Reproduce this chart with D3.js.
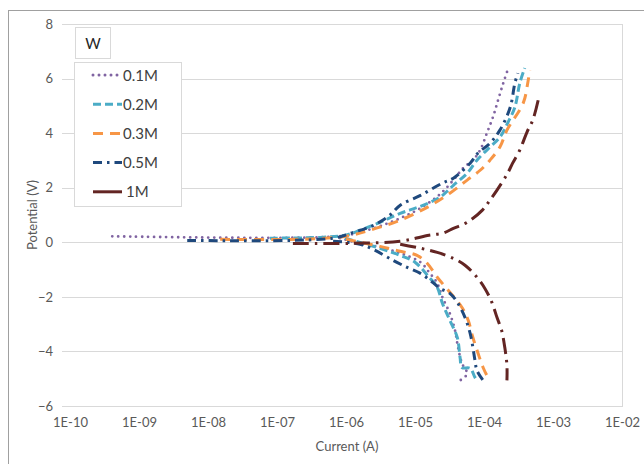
<!DOCTYPE html>
<html><head><meta charset="utf-8">
<script src="https://cdn.jsdelivr.net/npm/d3@7"></script>
<style>body{margin:0;background:#fff}svg{display:block}text{font-family:Lato,"Open Sans",sans-serif}</style>
</head><body>
<svg id="c" width="644" height="464"></svg>
<script>
// ---- data (current in A, potential in V) ----
const seriesNames = ["0.1M","0.2M","0.3M","0.5M","1M"];
const xTicks = [1e-10,1e-9,1e-8,1e-7,1e-6,1e-5,1e-4,1e-3,1e-2];
const xTickLabels = ["1E-10","1E-09","1E-08","1E-07","1E-06","1E-05","1E-04","1E-03","1E-02"];
const yTicks = [-6,-4,-2,0,2,4,6,8];

const m01_anodic_I = [4.1e-10,8.2e-7,1.6e-6,3.1e-6,6.1e-6,1.2e-5,2.3e-5,3.6e-5,5.0e-5,6.9e-5,8.8e-5,1.1e-4,1.35e-4,1.6e-4,1.9e-4,2.2e-4];
const m01_anodic_V = [0.22,0.22,0.37,0.59,0.88,1.25,1.76,2.28,2.72,3.01,3.38,4.00,4.59,5.21,5.83,6.31];
const m01_cathodic_I = [8.2e-7,1.6e-6,3.1e-6,6.1e-6,1.2e-5,1.6e-5,2.1e-5,2.5e-5,3.2e-5,3.8e-5,4.2e-5,4.8e-5,5.7e-5,5.0e-5,4.5e-5];
const m01_cathodic_V = [0.15,-0.04,-0.18,-0.40,-0.73,-1.10,-1.50,-2.02,-2.61,-3.23,-3.85,-4.44,-4.81,-4.99,-5.06];

const m02_anodic_I = [7.9e-8,4.2e-7,9.7e-7,1.6e-6,3.1e-6,6.1e-6,1.2e-5,2.3e-5,3.6e-5,5.7e-5,7.9e-5,1.22e-4,1.7e-4,2.2e-4,2.8e-4,3.3e-4,3.9e-4];
const m02_anodic_V = [0.15,0.18,0.26,0.44,0.73,1.06,1.32,1.65,2.09,2.53,3.01,3.49,3.85,4.37,4.95,5.83,6.39];
const m02_cathodic_I = [9.7e-7,3.1e-6,6.1e-6,1.0e-5,1.6e-5,2.1e-5,2.5e-5,3.2e-5,4.1e-5,4.5e-5,4.8e-5,6.3e-5,7.4e-5,8.2e-5];
const m02_cathodic_V = [0.15,-0.22,-0.48,-0.73,-1.28,-1.65,-2.24,-2.86,-3.49,-4.22,-4.59,-4.62,-4.95,-5.10];

const m03_anodic_I = [1.5e-8,2.2e-7,1.0e-6,2.2e-6,6.1e-6,1.6e-5,3.2e-5,5.7e-5,8.8e-5,1.22e-4,1.7e-4,2.15e-4,3.7e-4,4.3e-4,4.6e-4];
const m03_anodic_V = [0.11,0.11,0.22,0.44,0.81,1.32,1.80,2.28,2.64,3.01,3.49,4.11,5.10,5.83,6.31];
const m03_cathodic_I = [1.0e-6,3.1e-6,6.1e-6,1.07e-5,1.5e-5,2.1e-5,3.2e-5,4.8e-5,5.9e-5,6.9e-5,8.2e-5,9.7e-5,1.14e-4,1.22e-4];
const m03_cathodic_V = [0.11,-0.15,-0.33,-0.48,-0.77,-1.28,-1.83,-2.39,-2.86,-3.49,-4.07,-4.59,-4.95,-5.06];

const m05_anodic_I = [5.0e-9,6.5e-7,1.3e-6,2.5e-6,4.3e-6,6.1e-6,1.2e-5,2.5e-5,3.6e-5,6.3e-5,8.2e-5,1.22e-4,1.7e-4,2.4e-4,2.8e-4,3.1e-4];
const m05_anodic_V = [0.07,0.15,0.37,0.62,0.99,1.36,1.72,2.17,2.35,2.90,3.27,3.63,4.11,4.95,5.83,6.20];
const m05_cathodic_I = [6.5e-7,1.6e-6,2.6e-6,4.8e-6,7.7e-6,1.2e-5,1.8e-5,2.3e-5,3.2e-5,4.2e-5,5.3e-5,6.3e-5,6.9e-5,7.4e-5,7.9e-5,9.7e-5];
const m05_cathodic_V = [0.04,-0.07,-0.29,-0.66,-0.92,-1.14,-1.47,-1.69,-1.87,-2.24,-2.75,-3.34,-3.85,-4.33,-4.70,-5.06];

const m1_anodic_I = [1.7e-7,1.1e-6,6.1e-6,1.6e-5,2.5e-5,3.6e-5,5.7e-5,9.4e-5,1.22e-4,1.8e-4,2.2e-4,2.6e-4,3.3e-4,4.2e-4,5.1e-4,6.1e-4];
const m1_anodic_V = [-0.04,-0.04,0.04,0.26,0.33,0.51,0.73,1.17,1.54,2.17,2.53,2.90,3.38,4.04,4.48,5.21];
const m1_cathodic_I = [6.1e-6,1.2e-5,2.1e-5,3.6e-5,5.3e-5,7.9e-5,1.03e-4,1.3e-4,1.54e-4,1.8e-4,2.0e-4,2.15e-4,2.15e-4];
const m1_cathodic_V = [-0.07,-0.22,-0.37,-0.59,-0.84,-1.28,-1.69,-2.20,-2.75,-3.23,-3.85,-4.51,-5.06];

// ---- styles ----
const colors = ["#8064A2","#4BACC6","#F79646","#1F497D","#632523"];
const dashes = ["0,6","8,4","10,7","9,5,2.5,5","16,6,2.5,6"];
const caps = ["round","butt","butt","butt","butt"];

const branches = [
  [[m01_anodic_I,m01_anodic_V],[m01_cathodic_I,m01_cathodic_V]],
  [[m02_anodic_I,m02_anodic_V],[m02_cathodic_I,m02_cathodic_V]],
  [[m03_anodic_I,m03_anodic_V],[m03_cathodic_I,m03_cathodic_V]],
  [[m05_anodic_I,m05_anodic_V],[m05_cathodic_I,m05_cathodic_V]],
  [[m1_anodic_I,m1_anodic_V],[m1_cathodic_I,m1_cathodic_V]]
];

const svg = d3.select("#c");
const L = 68, R = 622, T = 24, B = 406;
const x = d3.scaleLog().domain([1e-10,1e-2]).range([L+2,R]);
const y = d3.scaleLinear().domain([-6,8]).range([B,T]);

// outer frame
svg.append("rect").attr("x",8.5).attr("y",10.5).attr("width",700).attr("height",700)
  .attr("fill","none").attr("stroke","#a0a0a0");

// gridlines
svg.append("g").selectAll("line").data(yTicks).join("line")
  .attr("x1",L-6).attr("x2",R).attr("y1",d=>Math.round(y(d))+0.5).attr("y2",d=>Math.round(y(d))+0.5)
  .attr("stroke","#d9d9d9").attr("stroke-width",1);
svg.append("line").attr("x1",R+0.5).attr("x2",R+0.5).attr("y1",T).attr("y2",B+1)
  .attr("stroke","#d9d9d9");

// y axis labels
const yAx = d3.axisLeft(y).tickValues(yTicks).tickSize(0).tickPadding(0);
const gy = svg.append("g").attr("transform",`translate(${L-15},0)`).call(yAx);
gy.select(".domain").remove();
gy.selectAll("text").attr("font-size",13).attr("fill","#595959").attr("font-family","Lato");

// x axis labels
const xAx = d3.axisBottom(x).tickValues(xTicks).tickFormat((d,i)=>xTickLabels[i]).tickSize(0).tickPadding(0);
const gx = svg.append("g").attr("transform",`translate(0,${B+12})`).call(xAx);
gx.select(".domain").remove();
gx.selectAll("text").attr("font-size",13).attr("fill","#595959").attr("font-family","Lato");

// axis titles
svg.append("text").attr("x",(L+R)/2+2).attr("y",451).attr("text-anchor","middle")
  .attr("font-size",13).attr("fill","#595959").text("Current (A)");
svg.append("text").attr("transform","translate(37,215) rotate(-90)").attr("text-anchor","middle")
  .attr("font-size",13).attr("fill","#595959").text("Potential (V)");

// curves
const line = d3.line().x(d=>x(d[0])).y(d=>y(d[1])).curve(d3.curveCatmullRom.alpha(0.5));
branches.forEach((br,s)=>{
  br.forEach(([I,V])=>{
    const pts = I.map((v,i)=>[v,V[i]]);
    svg.append("path").attr("d",line(pts)).attr("fill","none")
      .attr("stroke",colors[s]).attr("stroke-width",s===0?2.8:3)
      .attr("stroke-dasharray",dashes[s]).attr("stroke-linecap",caps[s]);
  });
});

// "W" box
svg.append("rect").attr("x",75.5).attr("y",27.5).attr("width",35).attr("height",31)
  .attr("fill","#fff").attr("stroke","#d9d9d9");
svg.append("text").attr("x",93).attr("y",49).attr("text-anchor","middle")
  .attr("font-size",15).attr("fill","#262626").text("W");

// legend
svg.append("rect").attr("x",74.5).attr("y",62.5).attr("width",107).attr("height",144)
  .attr("fill","#fff").attr("stroke","#d9d9d9");
const lg = svg.append("g");
seriesNames.forEach((n,i)=>{
  const cy = 75 + i*29.2;
  lg.append("line").attr("x1",93).attr("x2",122).attr("y1",cy).attr("y2",cy)
    .attr("stroke",colors[i]).attr("stroke-width",3)
    .attr("stroke-dasharray",i===4?null:dashes[i]).attr("stroke-linecap",caps[i]);
  lg.append("text").attr("x",i===4?126:123).attr("y",cy+5.5).attr("font-size",15)
    .attr("fill","#404040").text(n);
});
</script>
</body></html>
